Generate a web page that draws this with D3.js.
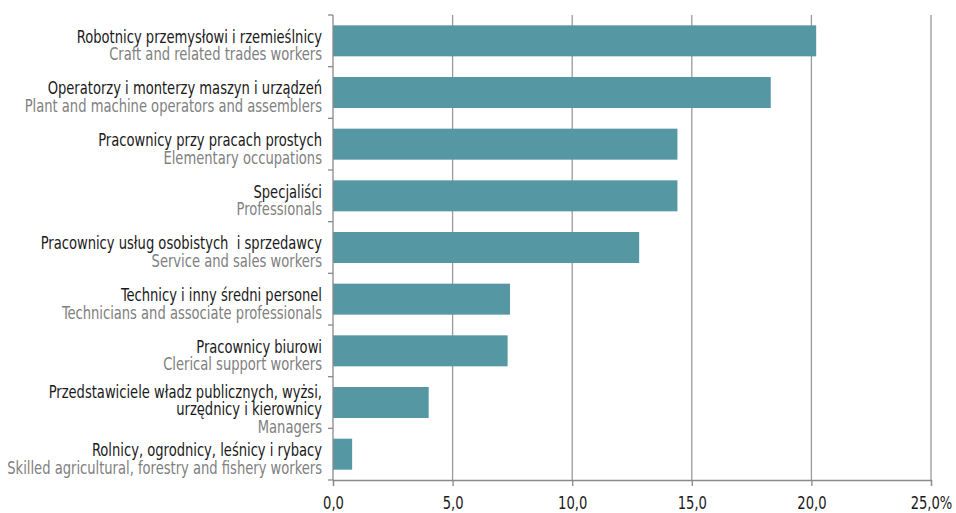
<!DOCTYPE html>
<html>
<head>
<meta charset="utf-8">
<script src="https://cdn.jsdelivr.net/npm/d3@7"></script>
<style>
  body { margin: 0; background: #fff; }
  svg text { font-family: "DejaVu Sans", sans-serif; font-stretch: condensed; white-space: pre; }
</style>
</head>
<body>
<div id="chart-area"></div>
<script>
// categories (polish lines, english line), values in %
var labelsPl = [
  ["Robotnicy przemysłowi i rzemieślnicy"],
  ["Operatorzy i monterzy maszyn i urządzeń"],
  ["Pracownicy przy pracach prostych"],
  ["Specjaliści"],
  ["Pracownicy usług osobistych  i sprzedawcy"],
  ["Technicy i inny średni personel"],
  ["Pracownicy biurowi"],
  ["Przedstawiciele władz publicznych, wyżsi,", "urzędnicy i kierownicy"],
  ["Rolnicy, ogrodnicy, leśnicy i rybacy"]
];
var labelsEn = [
  "Craft and related trades workers",
  "Plant and machine operators and assemblers",
  "Elementary occupations",
  "Professionals",
  "Service and sales workers",
  "Technicians and associate professionals",
  "Clerical support workers",
  "Managers",
  "Skilled agricultural, forestry and fishery workers"
];
var values = [20.2, 18.3, 14.4, 14.4, 12.8, 7.4, 7.3, 4.0, 0.8];
var xTicks = [0, 5, 10, 15, 20, 25];

var width = 956, height = 513;
var margin = {left: 333, right: 25, top: 15, bottom: 33};
var squeeze = 0.81; // narrow the font to look like a condensed face

var svg = d3.select("#chart-area")
  .append("svg")
  .attr("width", width)
  .attr("height", height);

var idx = d3.range(values.length);

var x = d3.scaleLinear()
  .domain([0, 25])
  .range([margin.left, width - margin.right]);

var y = d3.scaleBand()
  .domain(idx)
  .range([margin.top, height - margin.bottom])
  .paddingInner(0.4)
  .paddingOuter(0.2);

var gridColor = "#9a9a9a";

// vertical gridlines
svg.append("g")
  .selectAll("line")
  .data(xTicks.slice(1))
  .enter()
  .append("line")
  .attr("x1", function (d) { return x(d); })
  .attr("x2", function (d) { return x(d); })
  .attr("y1", margin.top)
  .attr("y2", height - margin.bottom)
  .attr("stroke", gridColor)
  .attr("stroke-width", 1.3);

// bars
svg.append("g")
  .selectAll("rect")
  .data(idx)
  .enter()
  .append("rect")
  .attr("x", x(0))
  .attr("y", function (i) { return y(i); })
  .attr("width", function (i) { return x(values[i]) - x(0); })
  .attr("height", y.bandwidth())
  .attr("fill", "#5597a2");

// x axis
var fmt = function (d) {
  var s = d3.format(".1f")(d).replace(".", ",");
  return d === 25 ? s + "%" : s;
};
var xAxis = svg.append("g")
  .attr("transform", "translate(0," + (height - margin.bottom) + ")")
  .call(d3.axisBottom(x).tickValues(xTicks).tickFormat(fmt).tickSize(6).tickPadding(10));
xAxis.select(".domain").attr("stroke", "#8a8a8a").attr("stroke-width", 1.3);
xAxis.selectAll(".tick line").attr("stroke", "#8a8a8a").attr("stroke-width", 1.3);
xAxis.selectAll(".tick text")
  .attr("fill", "#1a1a1a")
  .attr("transform", "scale(" + squeeze + ",1)")
  .style("font-size", "18px");

// y axis line with ticks at band boundaries
var yTop = margin.top, yBot = height - margin.bottom;
svg.append("line")
  .attr("x1", x(0)).attr("x2", x(0))
  .attr("y1", yTop).attr("y2", yBot)
  .attr("stroke", "#8a8a8a")
  .attr("stroke-width", 1.3);
svg.append("g")
  .selectAll("line")
  .data(d3.range(values.length + 1))
  .enter()
  .append("line")
  .attr("x1", x(0) - 5)
  .attr("x2", x(0))
  .attr("y1", function (k) { return yTop + k * (yBot - yTop) / values.length; })
  .attr("y2", function (k) { return yTop + k * (yBot - yTop) / values.length; })
  .attr("stroke", "#8a8a8a")
  .attr("stroke-width", 1.3);

// category labels
var lineH = 17.5;
var labels = svg.append("g")
  .attr("text-anchor", "end")
  .attr("transform", "translate(" + (x(0) - 11) + ",0) scale(" + squeeze + ",1)");
idx.forEach(function (i) {
  var c = y(i) + y.bandwidth() / 2;
  var lines = labelsPl[i];
  var first = c + 2 - (lines.length - 1) * 6.5;
  var t = labels.append("text")
    .attr("x", 0)
    .style("font-size", "18px");
  lines.forEach(function (l, j) {
    t.append("tspan")
      .attr("x", 0)
      .attr("y", first + j * lineH)
      .attr("fill", "#1a1a1a")
      .text(l);
  });
  t.append("tspan")
    .attr("x", 0)
    .attr("y", first + lines.length * lineH)
    .attr("fill", "#808080")
    .text(labelsEn[i]);
});
</script>
</body>
</html>
